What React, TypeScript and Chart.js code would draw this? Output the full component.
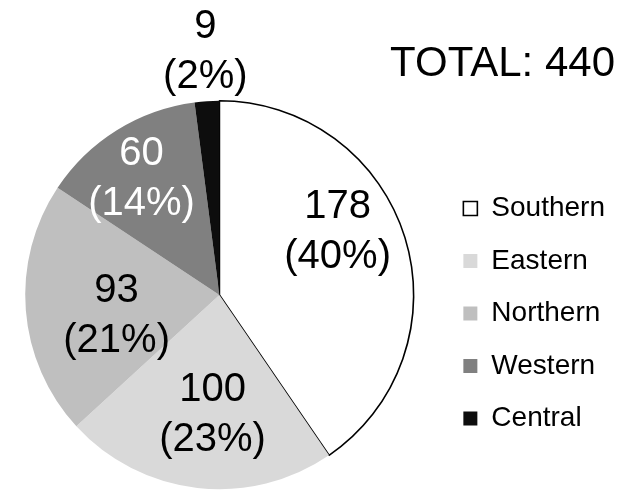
import React, { useEffect, useRef } from "react";
import { Chart, registerables } from "chart.js";

Chart.register(...registerables);

const categories = ["Southern", "Eastern", "Northern", "Western", "Central"];
const values = [178, 100, 93, 60, 9];
const sliceColors = ["#ffffff", "#d9d9d9", "#bfbfbf", "#808080", "#0d0d0d"];
const sliceBorderColors = ["#000000", "#d9d9d9", "#bfbfbf", "#808080", "#0d0d0d"];
const sliceBorderWidths = [1.6, 0, 0, 0, 0];
const labelTextColors = ["#000000", "#000000", "#000000", "#ffffff", "#000000"];
// label placement inside each arc: fraction along the arc's angle span, and fraction of radius
const labelAngleFrac = [0.425, 0.46, 0.41, 0.46, 0.55];
const labelRadiusFrac = [0.69, 0.62, 0.54, 0.72, 1.255];

const FONT_FAMILY = '"Liberation Sans", Arial, Helvetica, sans-serif';

const total = values.reduce((a, b) => a + b, 0);

const valueLabelPlugin = {
  id: "valueLabels",
  afterDraw(chart: any) {
    const ctx = chart.ctx;
    const meta = chart.getDatasetMeta(0);
    const data = chart.data.datasets[0].data as number[];
    const sum = data.reduce((a, b) => a + b, 0);
    ctx.save();
    ctx.font = `40px ${FONT_FAMILY}`;
    ctx.textAlign = "center";
    ctx.textBaseline = "middle";
    meta.data.forEach((arc: any, i: number) => {
      const p = arc.getProps(["x", "y", "startAngle", "endAngle", "outerRadius"], true);
      const ang = p.startAngle + labelAngleFrac[i] * (p.endAngle - p.startAngle);
      const r = labelRadiusFrac[i] * p.outerRadius;
      const cx = p.x + Math.cos(ang) * r;
      const cy = p.y + Math.sin(ang) * r;
      const v = data[i];
      const pct = Math.round((v / sum) * 100);
      ctx.fillStyle = labelTextColors[i];
      ctx.fillText(String(v), cx, cy - 25);
      ctx.fillText(`(${pct}%)`, cx, cy + 25);
    });
    ctx.restore();
  },
};

export default function App() {
  const canvasRef = useRef<HTMLCanvasElement | null>(null);

  useEffect(() => {
    if (!canvasRef.current) return;
    const chart = new Chart(canvasRef.current, {
      type: "pie",
      data: {
        labels: categories,
        datasets: [
          {
            data: values,
            backgroundColor: sliceColors,
            borderColor: sliceBorderColors,
            borderWidth: sliceBorderWidths,
          },
        ],
      },
      options: {
        responsive: true,
        maintainAspectRatio: false,
        animation: false,
        layout: {
          padding: { left: 0, right: 9, top: 0, bottom: 1 },
        },
        plugins: {
          title: {
            display: true,
            text: `TOTAL: ${total}`,
            align: "end",
            color: "#000",
            font: { family: FONT_FAMILY, size: 42, weight: "normal", lineHeight: 1.2 },
            padding: { top: 39, bottom: 10.6 },
          },
          legend: {
            display: true,
            position: "right",
            align: "center",
            title: {
              display: true,
              text: "",
              font: { family: FONT_FAMILY, size: 12, lineHeight: 1 },
              padding: { top: 125, bottom: 0 },
            },
            labels: {
              color: "#000",
              boxWidth: 14,
              boxHeight: 14,
              padding: 24.5,
              font: { family: FONT_FAMILY, size: 28 },
            },
          },
          tooltip: { enabled: false },
        },
      },
      plugins: [valueLabelPlugin],
    });
    return () => chart.destroy();
  }, []);

  return (
    <div style={{ position: "absolute", left: 0, top: 0, width: 624, height: 491, background: "#fff" }}>
      <canvas ref={canvasRef} />
    </div>
  );
}
